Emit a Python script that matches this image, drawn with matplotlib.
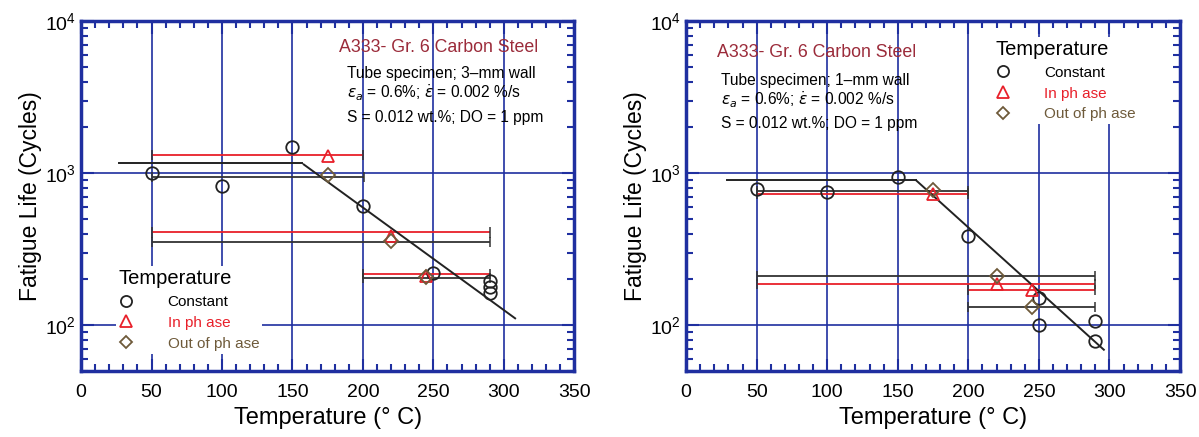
import matplotlib
matplotlib.use("Agg")
import matplotlib.pyplot as plt
from matplotlib.ticker import MultipleLocator, LogLocator, NullFormatter
from matplotlib.lines import Line2D

plt.rcParams['font.family'] = ['Liberation Sans', 'DejaVu Sans']

BLUE = '#1f2fa0'
RED = '#e8202a'
BROWN = '#6e5a3a'
MAROON = '#9b2b3a'
DARK = '#333333'

# ---- 3-mm wall (left panel) ----
c3_T = [50, 100, 150, 200, 250, 290, 290, 290]
c3_N = [1000, 820, 1480, 608, 222, 194, 177, 162]
ip3_T = [175, 220, 245]
ip3_N = [1290, 387, 212]
op3_T = [175, 220, 245]
op3_N = [970, 359, 206]
# temperature ranges of thermal cycling: (Tmin, Tmax, N, kind)
rng3_lo = [50, 50, 50, 50, 200, 200]
rng3_hi = [200, 201, 290, 290, 290, 290]
rng3_N = [1310, 946, 407, 351, 218, 205]
rng3_kind = ['ip', 'op', 'ip', 'op', 'ip', 'op']
fit3_T = [27, 157, 158, 308]
fit3_N = [1170, 1170, 1140, 111]

# ---- 1-mm wall (right panel) ----
c1_T = [50, 100, 150, 200, 250, 250, 290, 290]
c1_N = [791, 751, 942, 386, 151, 100, 107, 79]
ip1_T = [175, 220, 245]
ip1_N = [734, 188, 171]
op1_T = [175, 220, 245]
op1_N = [771, 211, 132]
rng1_lo = [50, 50, 50, 50, 200, 200]
rng1_hi = [200, 200, 290, 290, 290, 290]
rng1_N = [764, 734, 210, 186, 171, 132]
rng1_kind = ['op', 'ip', 'op', 'ip', 'ip', 'op']
fit1_T = [29, 163, 163, 296]
fit1_N = [896, 896, 896, 69]

x_ticks = [0, 50, 100, 150, 200, 250, 300, 350]


def draw_panel(ax, cT, cN, ipT, ipN, opT, opN, lo, hi, rN, kind, fT, fN):
    ax.set_yscale('log')
    ax.set_xlim(0, 350)
    ax.set_ylim(50, 10000)
    ax.set_xticks(x_ticks)
    ax.xaxis.set_minor_locator(MultipleLocator(10))
    ax.yaxis.set_major_locator(LogLocator(base=10, numticks=10))
    ax.yaxis.set_minor_locator(LogLocator(base=10, subs=range(2, 10), numticks=20))
    ax.yaxis.set_minor_formatter(NullFormatter())
    ax.tick_params(which='both', direction='in', top=True, right=True,
                   color=BLUE, labelsize=14, width=1.5)
    ax.tick_params(which='major', length=9, pad=9)
    ax.tick_params(which='minor', length=5)
    ax.tick_params(axis='y', which='major', pad=4)
    for s in ax.spines.values():
        s.set_color(BLUE)
        s.set_linewidth(2.5)
    ax.grid(True, which='major', color=BLUE, linewidth=1.2)
    ax.set_axisbelow(True)

    # range lines with end caps
    for a, b, n, k in zip(lo, hi, rN, kind):
        col = RED if k == 'ip' else DARK
        ax.hlines(n, a, b, color=col, linewidth=1.3, zorder=2)
        ax.vlines([a, b], n / 1.08, n * 1.08, color=DARK, linewidth=1.1, zorder=2)

    # fitted trend
    ax.plot(fT[:2], fN[:2], color='#222222', linewidth=1.4, zorder=3)
    ax.plot(fT[2:], fN[2:], color='#222222', linewidth=1.4, zorder=3)

    ax.plot(cT, cN, 'o', ms=9, mfc='none', mec='#222222', mew=1.3, zorder=4)
    ax.plot(ipT, ipN, '^', ms=9, mfc='none', mec=RED, mew=1.3, zorder=4)
    ax.plot(opT, opN, 'D', ms=7, mfc='none', mec=BROWN, mew=1.3, zorder=4)

    ax.set_xlabel('Temperature (° C)', fontsize=17, labelpad=5)
    ax.set_ylabel('Fatigue Life (Cycles)', fontsize=16.5, labelpad=2)


def draw_legend(ax, x, y):
    handles = [
        Line2D([], [], ls='none', marker='o', ms=8, mfc='none', mec='#222222', mew=1.3),
        Line2D([], [], ls='none', marker='^', ms=9, mfc='none', mec=RED, mew=1.3),
        Line2D([], [], ls='none', marker='D', ms=6, mfc='none', mec=BROWN, mew=1.3),
    ]
    leg = ax.legend(handles, ['Constant', 'In ph ase', 'Out of ph ase'],
                    title='Temperature', loc='upper left', bbox_to_anchor=(x, y),
                    frameon=True, fontsize=11, title_fontsize=14.5,
                    handlelength=1.0, handletextpad=2.2, labelspacing=0.45,
                    borderpad=0.2, borderaxespad=0)
    leg.get_frame().set_edgecolor('none')
    leg.get_frame().set_facecolor('white')
    leg.get_frame().set_alpha(1)
    leg._legend_box.align = 'left'
    leg.get_texts()[1].set_color(RED)
    leg.get_texts()[2].set_color(BROWN)
    leg.set_zorder(5)


fig = plt.figure(figsize=(11.99, 4.37), dpi=100)
ax1 = fig.add_axes([0.0676, 0.151, 0.4114, 0.801])
ax2 = fig.add_axes([0.5722, 0.151, 0.4120, 0.801])

draw_panel(ax1, c3_T, c3_N, ip3_T, ip3_N, op3_T, op3_N,
           rng3_lo, rng3_hi, rng3_N, rng3_kind, fit3_T, fit3_N)
draw_panel(ax2, c1_T, c1_N, ip1_T, ip1_N, op1_T, op1_N,
           rng1_lo, rng1_hi, rng1_N, rng1_kind, fit1_T, fit1_N)

ax1.text(0.523, 0.923, 'A333- Gr. 6 Carbon Steel', transform=ax1.transAxes,
         color=MAROON, fontsize=12.8, va='center')
ax1.text(0.54, 0.851, 'Tube specimen; 3–mm wall', transform=ax1.transAxes,
         fontsize=11.2, va='center')
ax1.text(0.54, 0.794, r'$\varepsilon_a$ = 0.6%; $\dot{\varepsilon}$ = 0.002 %/s',
         transform=ax1.transAxes, fontsize=11.2, va='center')
ax1.text(0.54, 0.723, 'S = 0.012 wt.%; DO = 1 ppm', transform=ax1.transAxes,
         fontsize=11.2, va='center')
draw_legend(ax1, 0.07, 0.30)

ax2.text(0.063, 0.909, 'A333- Gr. 6 Carbon Steel', transform=ax2.transAxes,
         color=MAROON, fontsize=12.8, va='center')
ax2.text(0.071, 0.831, 'Tube specimen; 1–mm wall', transform=ax2.transAxes,
         fontsize=11.2, va='center')
ax2.text(0.071, 0.774, r'$\varepsilon_a$ = 0.6%; $\dot{\varepsilon}$ = 0.002 %/s',
         transform=ax2.transAxes, fontsize=11.2, va='center')
ax2.text(0.071, 0.706, 'S = 0.012 wt.%; DO = 1 ppm', transform=ax2.transAxes,
         fontsize=11.2, va='center')
draw_legend(ax2, 0.62, 0.955)

fig.savefig('out.png', dpi=100)
